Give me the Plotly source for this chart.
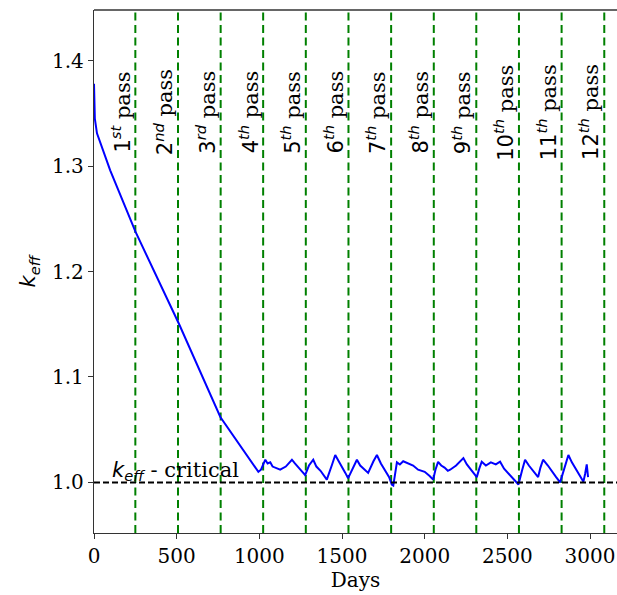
import plotly.graph_objects as go

# ---- data ----
days = [0, 5, 18, 98, 250, 515, 764, 994,
        1010, 1036, 1050, 1066, 1080, 1106, 1126, 1160, 1197, 1215, 1240, 1260, 1277,
        1300, 1326, 1345, 1370, 1390, 1408, 1440, 1459, 1480, 1500, 1520, 1537,
        1565, 1590, 1610, 1625, 1645, 1658, 1690, 1711, 1735, 1760, 1785, 1801, 1810,
        1832, 1850, 1870, 1900, 1930, 1960, 2000, 2030, 2051, 2065, 2081, 2100, 2120,
        2140, 2154, 2190, 2234, 2255, 2275, 2295, 2315, 2330, 2345, 2370, 2400, 2430,
        2456, 2480, 2510, 2540, 2567, 2590, 2607, 2630, 2650, 2670, 2686, 2700, 2716,
        2745, 2770, 2795, 2819, 2845, 2869, 2890, 2915, 2940, 2960, 2970, 2980, 2988]
keff = [1.378, 1.345, 1.331, 1.296, 1.238, 1.150, 1.062, 1.010,
        1.012, 1.0215, 1.018, 1.019, 1.015, 1.013, 1.012, 1.015, 1.0215, 1.018, 1.014, 1.010, 1.007,
        1.016, 1.0215, 1.015, 1.011, 1.006, 1.0026, 1.017, 1.026, 1.020, 1.015, 1.009, 1.004,
        1.014, 1.0215, 1.016, 1.014, 1.011, 1.009, 1.020, 1.026, 1.018, 1.012, 1.005, 0.998, 0.997,
        1.019, 1.017, 1.020, 1.018, 1.016, 1.012, 1.010, 1.006, 1.0026, 1.012, 1.0195, 1.016, 1.014,
        1.011, 1.012, 1.016, 1.023, 1.017, 1.013, 1.009, 1.005, 1.013, 1.0196, 1.016, 1.019, 1.017,
        1.0196, 1.013, 1.008, 1.003, 0.998, 1.012, 1.0215, 1.016, 1.012, 1.009, 1.005, 1.014, 1.0215,
        1.016, 1.010, 1.005, 1.000, 1.014, 1.026, 1.019, 1.012, 1.006, 1.0007, 1.008, 1.017, 1.005]

pass_lines = [250, 508, 766, 1023, 1281, 1539, 1797, 2055, 2312, 2570, 2828, 3086]
pass_numbers = ["1", "2", "3", "4", "5", "6", "7", "8", "9", "10", "11", "12"]
pass_suffixes = ["st", "nd", "rd", "th", "th", "th", "th", "th", "th", "th", "th", "th"]
label_days = [165 + 257.5 * i for i in range(12)]
critical_k = 1.0
x_ticks = [0, 500, 1000, 1500, 2000, 2500, 3000]
y_ticks = [1.0, 1.1, 1.2, 1.3, 1.4]

SERIF = "DejaVu Serif"
SANS = "DejaVu Sans"

fig = go.Figure()
fig.add_trace(go.Scatter(x=days, y=keff, mode="lines",
                         line=dict(color="#0000ff", width=2), showlegend=False))

shapes = []
for d in pass_lines:
    shapes.append(dict(type="line", xref="x", yref="paper", x0=d, x1=d, y0=0, y1=1,
                       line=dict(color="#008000", width=2, dash="8px,4.5px"), layer="below"))
shapes.append(dict(type="line", xref="paper", yref="y", x0=0, x1=1, y0=critical_k, y1=critical_k,
                   line=dict(color="black", width=2, dash="6px,3px")))
shapes.append(dict(type="line", xref="paper", yref="paper", x0=0, x1=1, y0=1, y1=1,
                   line=dict(color="#333333", width=1.3)))
fig.update_layout(shapes=shapes)

annotations = []
for num, suf, d in zip(pass_numbers, pass_suffixes, label_days):
    txt = (f"<span style='font-family:{SANS}'>{num}<sup><i>{suf}</i></sup></span> pass")
    annotations.append(dict(x=d, y=1.351, xref="x", yref="y", text=txt, textangle=-90,
                            showarrow=False, font=dict(family=SERIF, size=21, color="black"),
                            xanchor="center", yanchor="middle"))
annotations.append(dict(x=95, y=1.0, xref="x", yref="y",
                        text=f"<span style='font-family:{SANS}'><i>k</i><sub><i>eff</i></sub></span> - critical",
                        showarrow=False,
                        font=dict(family=SERIF, size=21, color="black"),
                        xanchor="left", yanchor="bottom", yshift=-4))
fig.update_layout(annotations=annotations)

fig.update_layout(
    width=617, height=595,
    margin=dict(l=94, r=0, t=10, b=62),
    plot_bgcolor="white", paper_bgcolor="white",
    xaxis=dict(range=[0, 3163], tickvals=x_ticks, ticks="outside", ticklen=5,
               tickcolor="#333333", showline=True, linecolor="#333333", linewidth=1.3,
               showgrid=False, zeroline=False,
               tickfont=dict(family=SERIF, size=20, color="black"),
               title=dict(text="Days", font=dict(family=SERIF, size=20, color="black"), standoff=2)),
    yaxis=dict(range=[0.952, 1.448], tickvals=y_ticks, ticktext=["1.0", "1.1", "1.2", "1.3", "1.4"],
               ticks="outside", ticklen=5,
               tickcolor="#333333", showline=True, linecolor="#333333", linewidth=1.3,
               showgrid=False, zeroline=False,
               tickfont=dict(family=SERIF, size=20, color="black"),
               title=dict(text="<i>k</i><sub><i>eff</i></sub>", font=dict(family=SANS, size=21, color="black"),
                          standoff=10)),
)

fig.write_html("out.html")
